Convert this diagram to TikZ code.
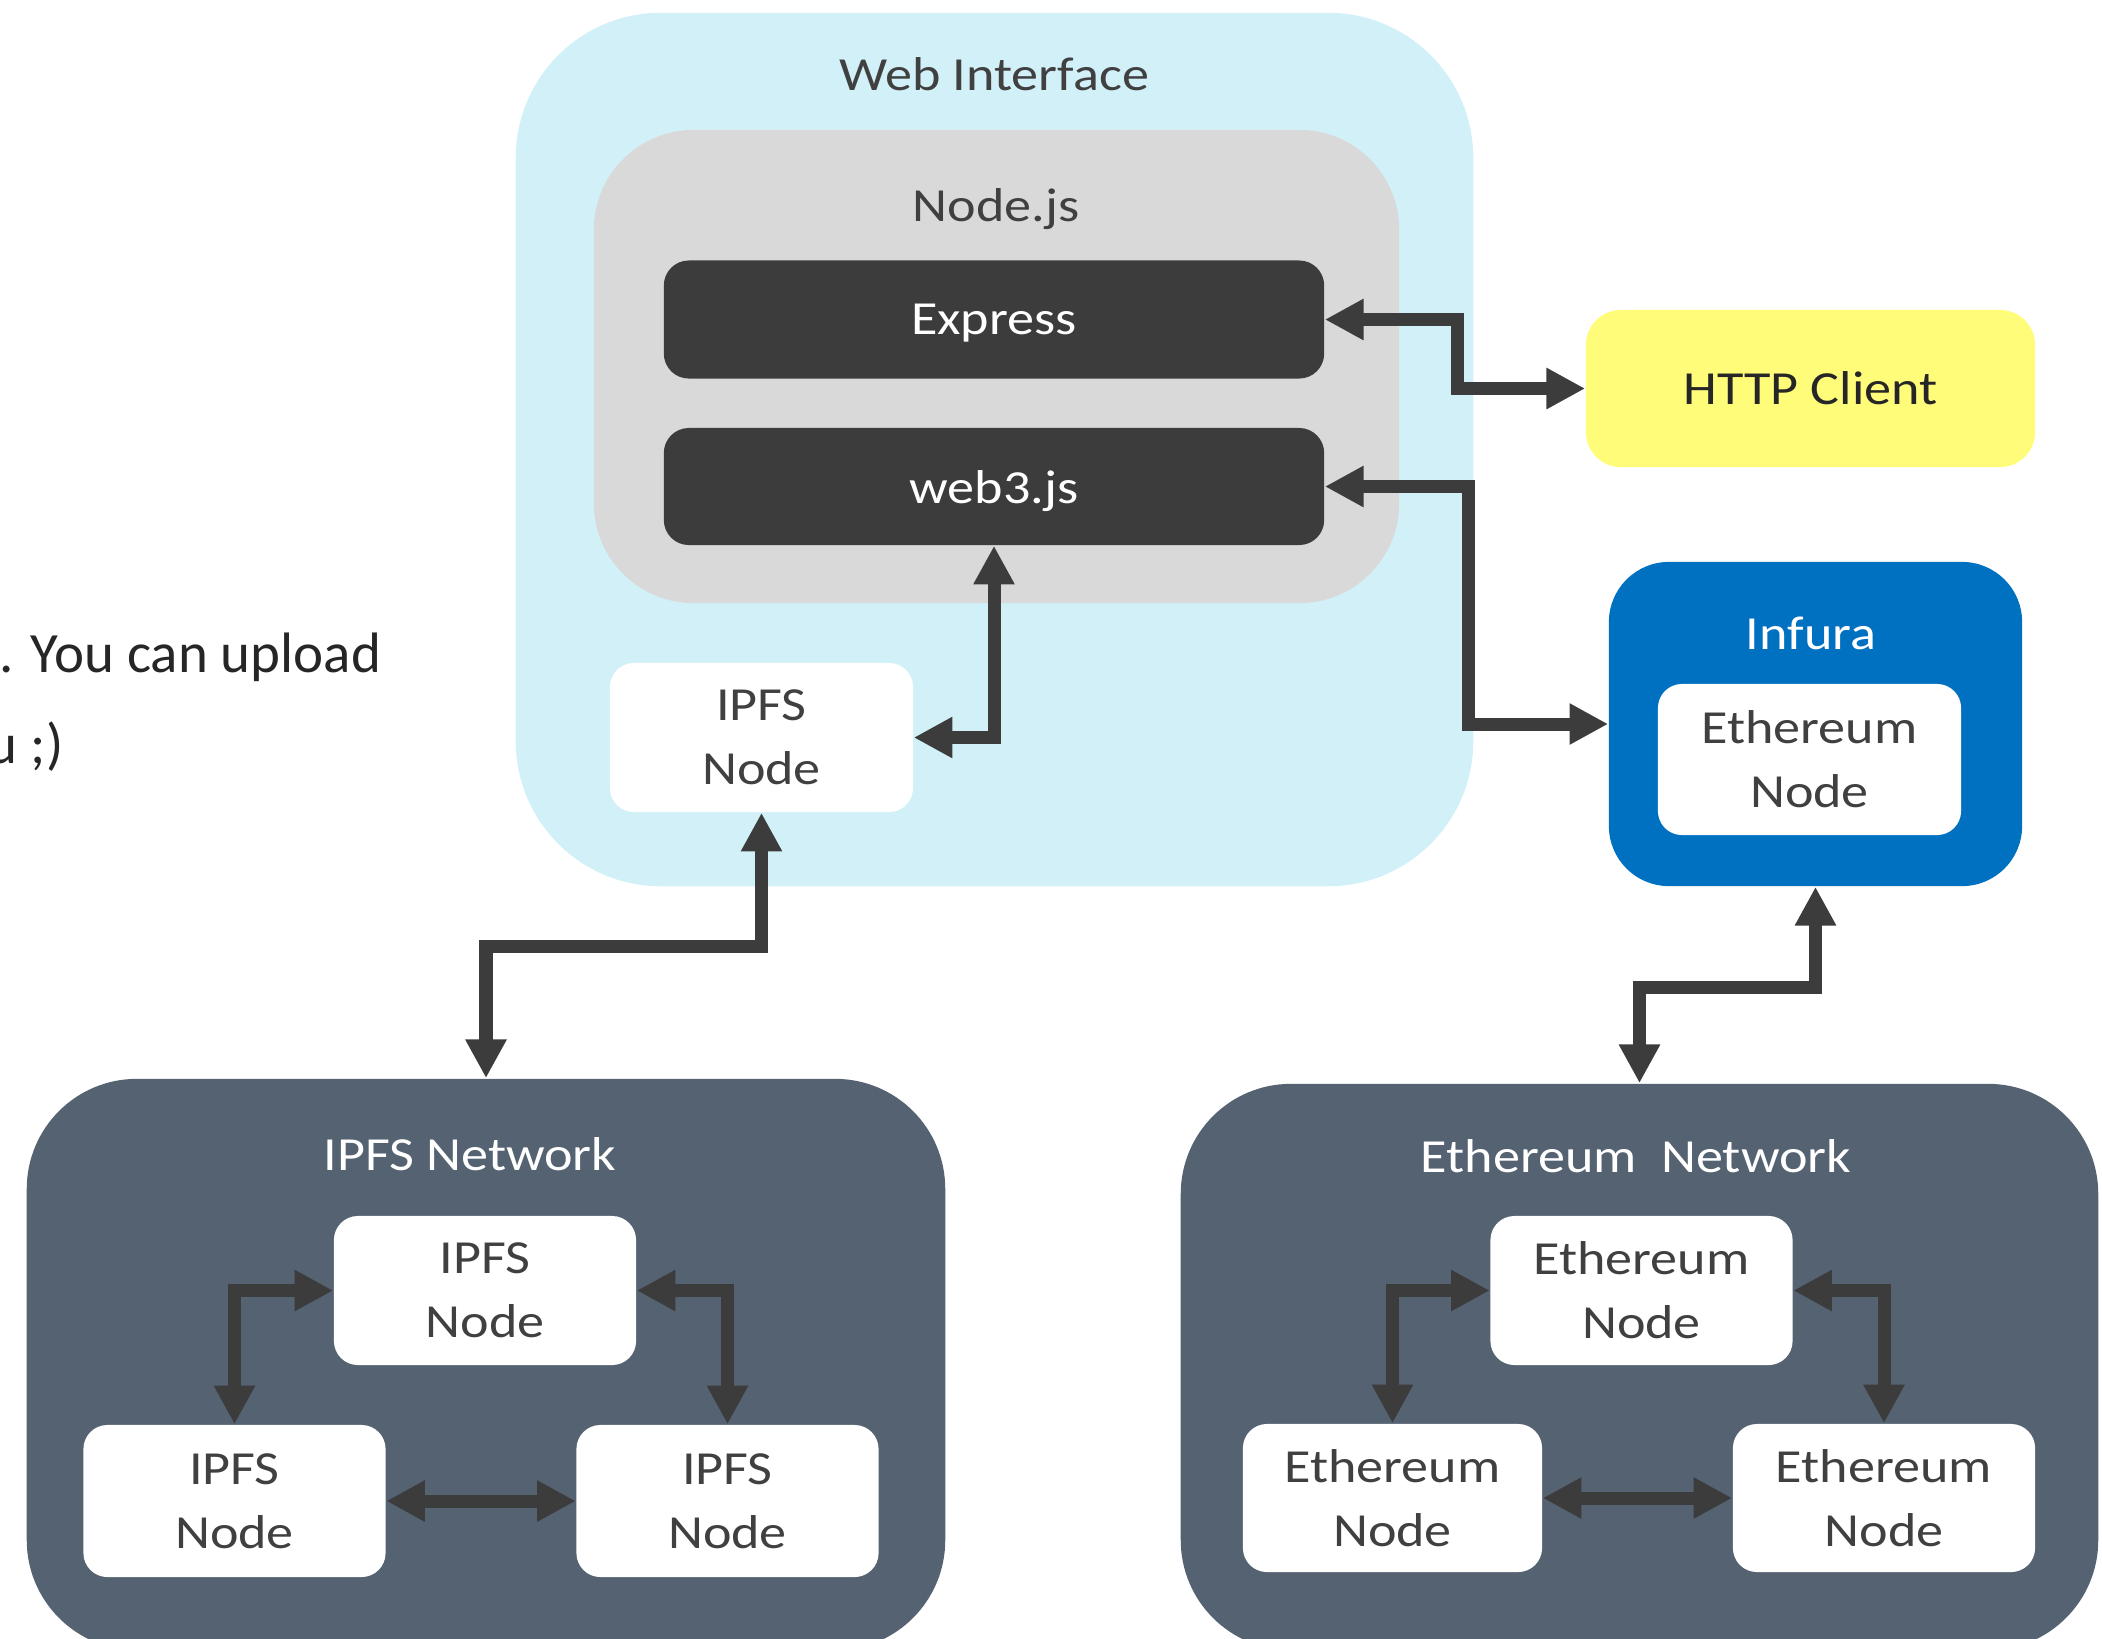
\documentclass[tikz,border=0pt]{standalone}
\usepackage{fontspec}
\setmainfont{Carlito}
\newfontfamily\diagfont[FakeStretch=1.14]{Carlito}
\usepackage{tikz}
\usetikzlibrary{arrows.meta, positioning}

\definecolor{webcyan}{HTML}{D1F0F8}
\definecolor{nodegray}{HTML}{D9D9D9}
\definecolor{boxdark}{HTML}{3C3C3C}
\definecolor{textgray}{HTML}{404040}
\definecolor{clientyellow}{HTML}{FFFC7A}
\definecolor{infurablue}{HTML}{0070C0}
\definecolor{netslate}{HTML}{546272}

\newcommand{\diagtext}{\diagfont\fontsize{13.5}{18.2}\selectfont}

\tikzstyle{panel} = [rectangle, inner sep=0pt, align=center, font=\diagtext]
\tikzstyle{whitebox} = [panel, fill=white, text=textgray, rounded corners=0.24cm,
    minimum width=3.02cm, minimum height=1.5cm]
\tikzstyle{darkbox} = [panel, fill=boxdark, text=white, rounded corners=0.25cm,
    minimum width=6.6cm, minimum height=1.18cm, text depth=0pt]
\tikzstyle{title} = [inner sep=0pt, font=\diagtext, text depth=0pt]
\tikzstyle{link} = [draw=boxdark, line width=3.7pt,
    {Triangle[width=11pt,length=11pt]}-{Triangle[width=11pt,length=11pt]}]

\begin{document}
\begin{tikzpicture}[x=0.01cm, y=-0.01cm]
    \useasboundingbox (0,0) rectangle (2102,1638);

    % cut-off note on the left
    \node[inner sep=0pt, anchor=base east, text=black!85, font=\fontsize{16.2}{20}\selectfont] (note1) at (382,672) {. You can upload};
    \node[inner sep=0pt, anchor=base east, text=black!85, font=\fontsize{16.2}{20}\selectfont] (note2) at (64,763) {u ;)};

    % web interface
    \node[panel, fill=webcyan, rounded corners=1.45cm, minimum width=9.57cm, minimum height=8.73cm] (web) at (994.5,449.5) {};
    \node[title, text=textgray] (webtitle) at (994,74) {Web Interface};
    \node[panel, fill=nodegray, rounded corners=1cm, minimum width=8.05cm, minimum height=4.73cm] (nodejs) at (996.5,366.5) {};
    \node[title, text=textgray] (nodejstitle) at (996,205) {Node.js};
    \node[darkbox] (express) at (994,319.5) {Express};
    \node[darkbox, minimum height=1.17cm] (web3) at (994,486.5) {web3.js};
    \node[whitebox, minimum width=3.03cm, minimum height=1.49cm] (ipfsnode) at (761.5,737.5) {IPFS\\Node};

    % http client and infura
    \node[panel, fill=clientyellow, text=black!85, rounded corners=0.35cm, minimum width=4.49cm, minimum height=1.57cm] (http) at (1810.5,388.5) {HTTP Client};
    \node[panel, fill=infurablue, rounded corners=0.6cm, minimum width=4.13cm, minimum height=3.24cm] (infura) at (1815.5,724) {};
    \node[title, text=white] (infuratitle) at (1811,633) {Infura};
    \node[whitebox, minimum width=3.03cm, minimum height=1.51cm] (infeth) at (1809.5,759.5) {Ethereum\\Node};

    % ipfs network
    \node[panel, fill=netslate, rounded corners=1.1cm, minimum width=9.18cm, minimum height=5.71cm] (ipfsnet) at (486,1364.5) {};
    \node[title, text=white] (ipfsnettitle) at (470,1154) {IPFS Network};
    \node[whitebox, minimum height=1.49cm] (ipfsA) at (485,1290.5) {IPFS\\Node};
    \node[whitebox, minimum height=1.52cm] (ipfsB) at (234.5,1501) {IPFS\\Node};
    \node[whitebox, minimum height=1.52cm] (ipfsC) at (727.5,1501) {IPFS\\Node};

    % ethereum network
    \node[panel, fill=netslate, rounded corners=1.1cm, minimum width=9.17cm, minimum height=5.66cm] (ethnet) at (1639.5,1367) {};
    \node[title, text=white] (ethnettitle) at (1636,1156) {Ethereum~~Network};
    \node[whitebox, minimum height=1.49cm] (ethA) at (1641.5,1290.5) {Ethereum\\Node};
    \node[whitebox, minimum width=2.99cm, minimum height=1.48cm] (ethB) at (1392.5,1498) {Ethereum\\Node};
    \node[whitebox, minimum height=1.48cm] (ethC) at (1884,1498) {Ethereum\\Node};

    % connections
    \draw[link] (express.east) -- ++(133,0) |- (http.west);
    \draw[link] (web3.east) -- ++(144,0) |- (infura.west);
    \draw[link] (ipfsnode.east) -| (web3.south);
    \draw[link] (ipfsnode.south) -- ++(0,134) -| (ipfsnet.north);
    \draw[link] (infura.south) -- ++(0,101) -| (ethnet.north);

    \draw[link] (ipfsA.west) -| (ipfsB.north);
    \draw[link] (ipfsA.east) -| (ipfsC.north);
    \draw[link] (ipfsB) -- (ipfsC);

    \draw[link] (ethA.west) -| (ethB.north);
    \draw[link] (ethA.east) -| (ethC.north);
    \draw[link] (ethB) -- (ethC);
\end{tikzpicture}
\end{document}
